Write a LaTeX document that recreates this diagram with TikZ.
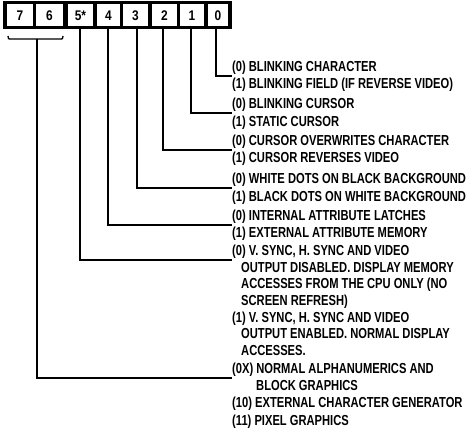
\documentclass[tikz,border=0pt]{standalone}
\usepackage{fontspec}
\newfontfamily\labfont[FakeStretch=0.77]{Liberation Sans}
\newfontfamily\digfont[FakeStretch=0.85]{Liberation Sans}
\begin{document}
\begin{tikzpicture}[x=1pt,y=-1pt,
  lab/.style={anchor=base west,inner sep=0pt,font=\labfont\bfseries\fontsize{14.5}{16}\selectfont},
  dig/.style={inner sep=0pt,font=\digfont\bfseries\fontsize{14}{16}\selectfont},
  wire/.style={line width=1.3pt}]
\useasboundingbox (0,0) rectangle (467,429);
% register frame
\fill[black] (3,1) rectangle (232,29);
\foreach \a/\b/\t/\n in {7/33/7/c7,36/63/6/c6,68/93/5*/c5,97/120/4/c4,123/148/3/c3,152/177/2/c2,180/204/1/c1,208/228/0/c0}{
  \fill[white] (\a,4) rectangle (\b,26);
  \node[dig] (\n) at ({(\a+\b)/2},15.5) {\t};
}
% brace for bits 7,6
\draw[wire] (8,36) .. controls (8,39) .. (12,39) -- (59,39) .. controls (63,39) .. (63,36);
\coordinate (br) at (37,39);
% label lines
\node[lab] (l0a) at (232,71) {(0) BLINKING CHARACTER};
\node[lab] (l0b) at (232,88) {(1) BLINKING FIELD (IF REVERSE VIDEO)};
\node[lab] (l1a) at (232,108) {(0) BLINKING CURSOR};
\node[lab] (l1b) at (232,126) {(1) STATIC CURSOR};
\node[lab] (l2a) at (232,145) {(0) CURSOR OVERWRITES CHARACTER};
\node[lab] (l2b) at (232,162) {(1) CURSOR REVERSES VIDEO};
\node[lab] (l3a) at (232,183) {(0) WHITE DOTS ON BLACK BACKGROUND};
\node[lab] (l3b) at (232,201) {(1) BLACK DOTS ON WHITE BACKGROUND};
\node[lab] (l4a) at (232,220) {(0) INTERNAL ATTRIBUTE LATCHES};
\node[lab] (l4b) at (232,237) {(1) EXTERNAL ATTRIBUTE MEMORY};
\node[lab] (l5a) at (232,255) {(0) V. SYNC, H. SYNC AND VIDEO};
\node[lab] (l5b) at (241,272) {OUTPUT DISABLED. DISPLAY MEMORY};
\node[lab] (l5c) at (241,288) {ACCESSES FROM THE CPU ONLY (NO};
\node[lab] (l5d) at (241,305) {SCREEN REFRESH)};
\node[lab] (l5e) at (232,322) {(1) V. SYNC, H. SYNC AND VIDEO};
\node[lab] (l5f) at (241,338) {OUTPUT ENABLED. NORMAL DISPLAY};
\node[lab] (l5g) at (241,355) {ACCESSES.};
\node[lab] (l7a) at (232,373) {(0X) NORMAL ALPHANUMERICS AND};
\node[lab] (l7b) at (256,390) {BLOCK GRAPHICS};
\node[lab] (l7c) at (232,407) {(10) EXTERNAL CHARACTER GENERATOR};
\node[lab] (l7d) at (232,425) {(11) PIXEL GRAPHICS};
% connectors
\draw[wire] (216,29) |- ([yshift=-5pt]l0a.base west);
\draw[wire] (191,29) |- ([yshift=-5pt]l1a.base west);
\draw[wire] (163,29) |- ([yshift=-5pt]l2a.base west);
\draw[wire] (137,29) |- ([yshift=-5pt]l3a.base west);
\draw[wire] (108,29) |- ([yshift=-5pt]l4a.base west);
\draw[wire] (80,29) |- ([yshift=-5pt]l5a.base west);
\draw[wire] (br) |- ([yshift=-5pt]l7a.base west);
\end{tikzpicture}
\end{document}
